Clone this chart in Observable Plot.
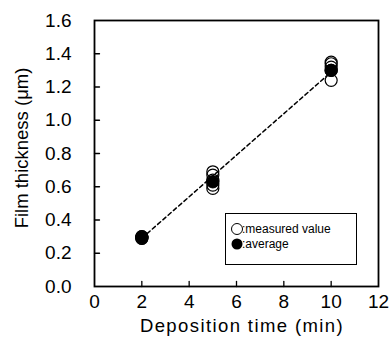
<!DOCTYPE html>
<html>
<head>
<meta charset="utf-8">
<script src="https://cdn.jsdelivr.net/npm/d3@7"></script>
<script src="https://cdn.jsdelivr.net/npm/@observablehq/plot@0.6"></script>
<style>
  html, body { margin: 0; padding: 0; background: #fff; }
  #chart { width: 391px; height: 339px; }
</style>
</head>
<body>
<div id="chart"></div>
<script>
// Data
const measuredTime  = [2, 2, 2, 2, 5, 5, 5, 5, 5, 10, 10, 10, 10, 10];
const measuredThick = [0.30, 0.29, 0.30, 0.29, 0.69, 0.67, 0.64, 0.61, 0.59, 1.35, 1.34, 1.32, 1.30, 1.24];
const avgTime  = [2, 5, 10];
const avgThick = [0.295, 0.63, 1.30];
const fitTime  = [2, 10];
const fitThick = [0.29, 1.29];
const xTicks = [0, 2, 4, 6, 8, 10, 12];
const yTicks = [0, 0.2, 0.4, 0.6, 0.8, 1.0, 1.2, 1.4, 1.6];
const legendLabels = [":measured value", ":average"];

const measured = measuredTime.map((t, i) => ({t, v: measuredThick[i]}));
const avg = avgTime.map((t, i) => ({t, v: avgThick[i]}));
const fit = fitTime.map((t, i) => ({t, v: fitThick[i]}));

const tickShapeX = { draw(ctx, l) { ctx.moveTo(0, 0); ctx.lineTo(0, -l); } };
const tickShapeY = { draw(ctx, l) { ctx.moveTo(0, 0); ctx.lineTo(l, 0); } };

const FONT = "Liberation Sans, Arial, sans-serif";

const chart = Plot.plot({
  width: 391,
  height: 339,
  marginLeft: 94,
  marginRight: 13,
  marginTop: 20,
  marginBottom: 53,
  style: { fontFamily: FONT, fontSize: "19px", color: "#000", background: "#fff" },
  x: { domain: [0, 12] },
  y: { domain: [0, 1.6] },
  marks: [
    Plot.axisX({ ticks: xTicks, tickSize: 0, tickPadding: 8, fontSize: 19, label: null, tickFormat: d => String(d) }),
    Plot.axisY({ ticks: yTicks, tickSize: 0, tickPadding: 23, fontSize: 19, label: null, tickFormat: d => d.toFixed(1) }),
    Plot.vector(xTicks.slice(1, -1), { x: d => d, y: 0, length: 5, anchor: "start", shape: tickShapeX, stroke: "#000", strokeWidth: 1.3 }),
    Plot.vector(yTicks.slice(1, -1), { x: 0, y: d => d, length: 5, anchor: "start", shape: tickShapeY, stroke: "#000", strokeWidth: 1.3 }),
    Plot.frame({ stroke: "#000", strokeWidth: 1.8 }),
    Plot.line(fit, { x: "t", y: "v", stroke: "#000", strokeWidth: 1.5, strokeDasharray: "4,3" }),
    Plot.dot(avg, { x: "t", y: "v", r: 6.2, fill: "#000", stroke: "#000", strokeWidth: 1 }),
    Plot.dot(measured, { x: "t", y: "v", r: 6, fill: "none", stroke: "#000", strokeWidth: 1.2 })
  ]
});

const svg = d3.select(chart);
// axis titles
svg.append("text")
  .attr("x", 242).attr("y", 332)
  .attr("text-anchor", "middle")
  .style("font-family", FONT).style("font-size", "18.5px").style("letter-spacing", "1.4px")
  .attr("fill", "#000")
  .text("Deposition time (min)");
svg.append("text")
  .attr("transform", "translate(28,148) rotate(-90)")
  .attr("text-anchor", "middle")
  .style("font-family", FONT).style("font-size", "18.5px")
  .attr("fill", "#000")
  .text("Film thickness (μm)");

// legend
const lg = svg.append("g").attr("text-anchor", "start");
lg.append("rect").attr("x", 225.5).attr("y", 213.5).attr("width", 131).attr("height", 51)
  .attr("fill", "#fff").attr("stroke", "#000").attr("stroke-width", 1);
lg.append("circle").attr("cx", 237).attr("cy", 229).attr("r", 5.5)
  .attr("fill", "none").attr("stroke", "#000").attr("stroke-width", 1);
lg.append("circle").attr("cx", 237).attr("cy", 244).attr("r", 5.5)
  .attr("fill", "#000");
legendLabels.forEach((s, i) => {
  lg.append("text").attr("x", 242).attr("y", 233 + i * 15)
    .attr("text-anchor", "start")
    .style("font-family", FONT).style("font-size", "12px").attr("fill", "#000")
    .text(s);
});

document.getElementById("chart").appendChild(chart);
</script>
</body>
</html>
